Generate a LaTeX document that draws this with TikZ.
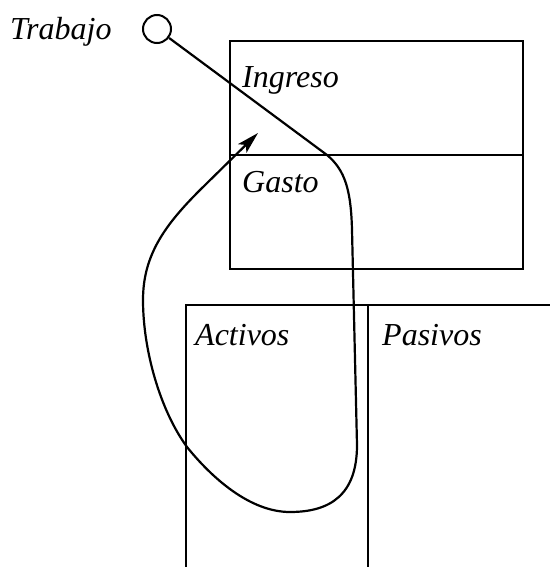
\documentclass[tikz,border=0pt]{standalone}
\usepackage{fontspec}
\setmainfont{Liberation Serif}
\usetikzlibrary{arrows.meta}
\tikzset{frame/.style={draw=black,line width=2pt},
  flow/.style={draw=black,line width=2.2pt},
  ring/.style={circle,draw=black,line width=2pt,minimum size=28pt,inner sep=0pt},
  tag/.style={anchor=base west,inner sep=0pt,font=\fontsize{32}{35}\selectfont\itshape}}
\begin{document}
\begin{tikzpicture}[x=1pt,y=-1pt]
\useasboundingbox (0,0) rectangle (550,567);
% cuentas
\draw[frame] (230,41) rectangle (523,269);
\draw[frame] (230,155) -- (523,155);
\draw[frame] (186,567) -- (186,305) -- (550,305);
\draw[frame] (368,305) -- (368,567);
\node[tag] (ingreso) at (242,88) {Ingreso};
\node[tag] (gasto) at (242,192) {Gasto};
\node[tag] (activos) at (195,345) {Activos};
\node[tag] (pasivos) at (382,345) {Pasivos};
% origen y recorrido
\node[ring] (trabajo) at (157,29) {};
\node[tag] (trabajolbl) at (10,40) {Trabajo};
\coordinate (tip) at (258,133);
\draw[flow,-{Stealth[length=22pt,width=12pt,inset=5pt]}] (trabajo) -- (327,155) .. controls (345,170) and (351,190) .. (352,230)
  -- (357,445) .. controls (357,495) and (330,512) .. (290,512)
  .. controls (250,512) and (212,478) .. (187,447)
  .. controls (160,410) and (143,350) .. (143,300)
  .. controls (143,255) and (165,225) .. (200,190) -- (tip);
\end{tikzpicture}
\end{document}
